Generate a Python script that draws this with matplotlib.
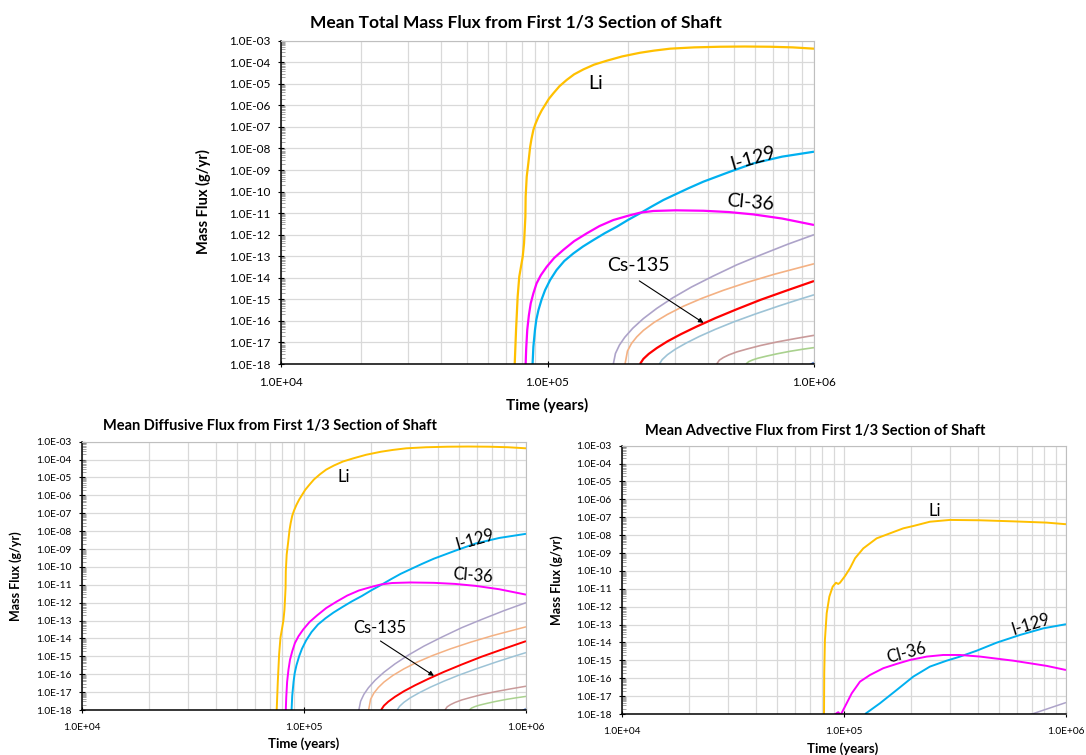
import numpy as np
import matplotlib
matplotlib.use("Agg")
import matplotlib.pyplot as plt
from matplotlib.ticker import FixedLocator, LogLocator, FuncFormatter, NullFormatter

plt.rcParams['font.family'] = ['Lato', 'DejaVu Sans']

W, H = 1086, 755

# all curves stored as log10(time, yr) / log10(mass flux, g/yr)
# --- total (and diffusive, which carries practically all of it) ---
li_t = [4.877, 4.882, 4.888, 4.894, 4.907, 4.912, 4.917, 4.918, 4.922, 4.928, 4.935, 4.94, 4.947,
        4.955, 4.966, 4.978, 4.991, 5.005, 5.022, 5.045, 5.072, 5.10, 5.135, 5.175, 5.222, 5.28,
        5.347, 5.40, 5.46, 5.55, 5.647, 5.74, 5.835, 5.92, 6.0]
li_f = [-18.0, -16.42, -14.88, -13.95, -13.02, -12.40, -11.17, -10.24, -9.31, -8.69, -7.92, -7.55,
        -7.14, -6.85, -6.53, -6.24, -5.98, -5.70, -5.44, -5.11, -4.82, -4.56, -4.33, -4.11, -3.93,
        -3.73, -3.56, -3.46, -3.37, -3.31, -3.28, -3.27, -3.28, -3.31, -3.37]
cl_t = [4.918, 4.92, 4.924, 4.93, 4.937, 4.947, 4.959, 4.975, 4.997, 5.025, 5.059, 5.10, 5.147,
        5.195, 5.247, 5.30, 5.347, 5.397, 5.48, 5.585, 5.68, 5.773, 5.88, 6.0]
cl_f = [-18.0, -17.3, -16.42, -15.75, -15.19, -14.72, -14.26, -13.88, -13.49, -13.08, -12.71,
        -12.30, -11.94, -11.60, -11.32, -11.13, -10.98, -10.90, -10.87, -10.89, -10.95, -11.06,
        -11.25, -11.55]
i_t = [4.944, 4.947, 4.953, 4.958, 4.966, 4.978, 4.991, 5.01, 5.034, 5.063, 5.097, 5.133, 5.172,
       5.215, 5.260, 5.303, 5.347, 5.39, 5.435, 5.478, 5.53, 5.585, 5.68, 5.773, 5.88, 6.0]
i_f = [-18.0, -17.2, -16.42, -15.95, -15.5, -15.0, -14.57, -14.1, -13.64, -13.22, -12.87, -12.55,
       -12.25, -11.93, -11.63, -11.31, -11.01, -10.70, -10.39, -10.14, -9.84, -9.54, -9.10, -8.69,
       -8.38, -8.15]
cs_t = [5.347, 5.36, 5.38, 5.41, 5.45, 5.50, 5.56, 5.63, 5.71, 5.80, 5.90, 6.0]
cs_f = [-18.0, -17.76, -17.53, -17.26, -16.95, -16.62, -16.26, -15.87, -15.46, -15.02, -14.58, -14.15]
pu_t = [5.247, 5.255, 5.27, 5.29, 5.32, 5.36, 5.41, 5.47, 5.54, 5.62, 5.71, 5.80, 5.90, 6.0]
pu_f = [-18.0, -17.51, -17.12, -16.76, -16.34, -15.89, -15.42, -14.93, -14.43, -13.93, -13.40,
        -12.94, -12.45, -12.0]
sa_t = [5.291, 5.30, 5.315, 5.335, 5.36, 5.40, 5.45, 5.51, 5.58, 5.66, 5.75, 5.85, 5.92, 6.0]
sa_f = [-18.0, -17.40, -17.05, -16.74, -16.44, -16.07, -15.70, -15.32, -14.95, -14.58, -14.21,
        -13.84, -13.61, -13.35]
lb_t = [5.420, 5.43, 5.45, 5.48, 5.52, 5.57, 5.63, 5.70, 5.78, 5.87, 5.94, 6.0]
lb_f = [-18.0, -17.80, -17.57, -17.31, -17.03, -16.72, -16.39, -16.04, -15.68, -15.30, -15.02, -14.79]
rb_t = [5.635, 5.645, 5.66, 5.68, 5.71, 5.75, 5.80, 5.86, 5.93, 6.0]
rb_f = [-18.0, -17.82, -17.70, -17.58, -17.44, -17.30, -17.14, -16.98, -16.82, -16.67]
gr_t = [5.745, 5.755, 5.77, 5.79, 5.82, 5.86, 5.91, 5.96, 6.0]
gr_f = [-18.0, -17.89, -17.81, -17.73, -17.64, -17.53, -17.41, -17.31, -17.24]
db_t = [5.985, 6.0]
db_f = [-18.05, -17.95]

# --- advective ---
adv_li_t = [4.910, 4.911, 4.914, 4.922, 4.934, 4.949, 4.964, 4.974, 4.982, 5.005, 5.027, 5.050,
            5.087, 5.147, 5.207, 5.267, 5.312, 5.387, 5.477, 5.613, 5.763, 5.913, 6.0]
adv_li_f = [-18.0, -15.72, -13.86, -12.37, -11.44, -10.88, -10.66, -10.73, -10.66, -10.28, -9.85,
            -9.29, -8.74, -8.18, -7.90, -7.62, -7.49, -7.25, -7.15, -7.17, -7.23, -7.30, -7.39]
adv_cl_t = [4.955, 4.974, 4.985, 5.012, 5.035, 5.072, 5.117, 5.177, 5.237, 5.297, 5.373, 5.447,
            5.523, 5.613, 5.763, 5.913, 6.0]
adv_cl_f = [-18.05, -17.9, -18.05, -17.40, -16.84, -16.19, -15.82, -15.44, -15.20, -14.98, -14.79,
            -14.70, -14.70, -14.79, -15.02, -15.31, -15.54]
adv_i_t = [5.095, 5.162, 5.237, 5.312, 5.387, 5.462, 5.523, 5.598, 5.688, 5.793, 5.898, 6.0]
adv_i_f = [-18.0, -17.40, -16.66, -15.91, -15.35, -15.02, -14.79, -14.46, -14.01, -13.58, -13.21,
           -12.98]
adv_pu_t = [5.823, 6.0]
adv_pu_f = [-18.1, -17.36]

C_LI, C_CL, C_I, C_CS = '#FFC000', '#FF00FF', '#00B0F0', '#FF0000'
C_PU, C_SA, C_LB, C_RB, C_GR, C_DB = '#ADA3C9', '#F4B183', '#9DC3D6', '#C99A9A', '#A9D18E', '#4472C4'

GRID = '#D9D9D9'

fig = plt.figure(figsize=(W / 100, H / 100), dpi=100)


def fx(x):
    return x / W


def fy(y):
    return 1 - y / H


def sci(v, pos):
    return '1.0E%+03d' % round(np.log10(v))


def make_axes(x0, y0, x1, y1, tick_fs):
    ax = fig.add_axes([fx(x0), fy(y1), (x1 - x0) / W, (y1 - y0) / H])
    ax.set_xscale('log')
    ax.set_yscale('log')
    ax.set_xlim(1e4, 1e6)
    ax.set_ylim(1e-18, 1e-3)
    ax.xaxis.set_major_locator(FixedLocator([1e4, 1e5, 1e6]))
    ax.xaxis.set_minor_locator(LogLocator(base=10, subs=np.arange(2, 10), numticks=50))
    ax.yaxis.set_major_locator(FixedLocator(10.0 ** np.arange(-18, -2)))
    ax.yaxis.set_minor_locator(LogLocator(base=10, subs=np.arange(2, 10), numticks=50))
    ax.xaxis.set_major_formatter(FuncFormatter(sci))
    ax.yaxis.set_major_formatter(FuncFormatter(sci))
    ax.xaxis.set_minor_formatter(NullFormatter())
    ax.yaxis.set_minor_formatter(NullFormatter())
    ax.grid(which='both', axis='x', color=GRID, lw=0.9)
    ax.grid(which='major', axis='y', color=GRID, lw=0.9)
    ax.tick_params(axis='x', which='major', direction='inout', length=5, width=0.8,
                   labelsize=tick_fs, pad=7)
    ax.tick_params(axis='x', which='minor', length=0)
    ax.tick_params(axis='y', which='major', direction='inout', length=5, width=0.8,
                   labelsize=tick_fs, pad=5)
    ax.tick_params(axis='y', which='minor', direction='in', length=3, width=0.5, color='#808080')
    for s in ('left', 'bottom'):
        ax.spines[s].set_color('black')
        ax.spines[s].set_linewidth(1.1)
    for s in ('top', 'right'):
        ax.spines[s].set_color('#BFBFBF')
        ax.spines[s].set_linewidth(0.8)
    ax.set_axisbelow(True)
    return ax


def draw(ax, t, f, color, lw):
    ax.plot(10.0 ** np.array(t), 10.0 ** np.array(f), color=color, lw=lw,
            solid_joinstyle='round', solid_capstyle='butt')


def draw_main(ax, lw_major, lw_minor):
    draw(ax, gr_t, gr_f, C_GR, lw_minor)
    draw(ax, rb_t, rb_f, C_RB, lw_minor)
    draw(ax, lb_t, lb_f, C_LB, lw_minor)
    draw(ax, sa_t, sa_f, C_SA, lw_minor)
    draw(ax, pu_t, pu_f, C_PU, lw_minor)
    draw(ax, db_t, db_f, C_DB, lw_minor * 1.5)
    draw(ax, cs_t, cs_f, C_CS, lw_major)
    draw(ax, i_t, i_f, C_I, lw_major)
    draw(ax, cl_t, cl_f, C_CL, lw_major)
    draw(ax, li_t, li_f, C_LI, lw_major)


def labels_main(ax, fs):
    ax.text(1.51e5, 1.09e-5, 'Li', fontsize=fs, ha='center', va='center')
    ax.text(5.92e5, 3.5e-9, 'I-129', fontsize=fs, ha='center', va='center', rotation=16)
    ax.text(5.75e5, 3.2e-11, 'Cl-36', fontsize=fs, ha='center', va='center', rotation=-5)
    ax.text(2.2e5, 3.9e-14, 'Cs-135', fontsize=fs, ha='center', va='center')
    ax.annotate('', xy=(3.85e5, 8.1e-17), xytext=(2.21e5, 7.2e-15),
                arrowprops=dict(arrowstyle='-|>', color='black', lw=0.8, mutation_scale=7,
                                shrinkA=0, shrinkB=0))


# ---- top: total ----
ax1 = make_axes(281, 40.7, 814, 364, 8.5)
draw_main(ax1, 1.6, 1.2)
labels_main(ax1, 14)
fig.text(fx(516), fy(23), 'Mean Total Mass Flux from First 1/3 Section of Shaft',
         fontsize=12.5, fontweight='bold', ha='center', va='center')
fig.text(fx(547), fy(405), 'Time (years)', fontsize=11, fontweight='bold', ha='center', va='center')
fig.text(fx(203), fy(202), 'Mass Flux (g/yr)', fontsize=10.5, fontweight='bold', ha='center',
         va='center', rotation=90)

# ---- bottom left: diffusive ----
ax2 = make_axes(82, 441.7, 526, 710, 7.3)
draw_main(ax2, 1.4, 1.1)
labels_main(ax2, 12)
fig.text(fx(270), fy(426), 'Mean Diffusive Flux from First 1/3 Section of Shaft',
         fontsize=10.5, fontweight='bold', ha='center', va='center')
fig.text(fx(304), fy(744), 'Time (years)', fontsize=9.5, fontweight='bold', ha='center', va='center')
fig.text(fx(16), fy(576), 'Mass Flux (g/yr)', fontsize=9, fontweight='bold', ha='center',
         va='center', rotation=90)

# ---- bottom right: advective ----
ax3 = make_axes(622, 445.7, 1066, 714, 7.3)
draw(ax3, adv_pu_t, adv_pu_f, C_PU, 1.1)
draw(ax3, adv_i_t, adv_i_f, C_I, 1.4)
draw(ax3, adv_cl_t, adv_cl_f, C_CL, 1.4)
draw(ax3, adv_li_t, adv_li_f, C_LI, 1.4)
ax3.text(2.57e5, 2.33e-7, 'Li', fontsize=12, ha='center', va='center')
ax3.text(6.93e5, 1.05e-13, 'I-129', fontsize=12, ha='center', va='center', rotation=17)
ax3.text(1.91e5, 2.5e-15, 'Cl-36', fontsize=12, ha='center', va='center', rotation=15)
fig.text(fx(815), fy(431), 'Mean Advective Flux from First 1/3 Section of Shaft',
         fontsize=10.5, fontweight='bold', ha='center', va='center')
fig.text(fx(843), fy(749), 'Time (years)', fontsize=9.5, fontweight='bold', ha='center', va='center')
fig.text(fx(557), fy(580), 'Mass Flux (g/yr)', fontsize=9, fontweight='bold', ha='center',
         va='center', rotation=90)

fig.savefig('out.png', dpi=100)
